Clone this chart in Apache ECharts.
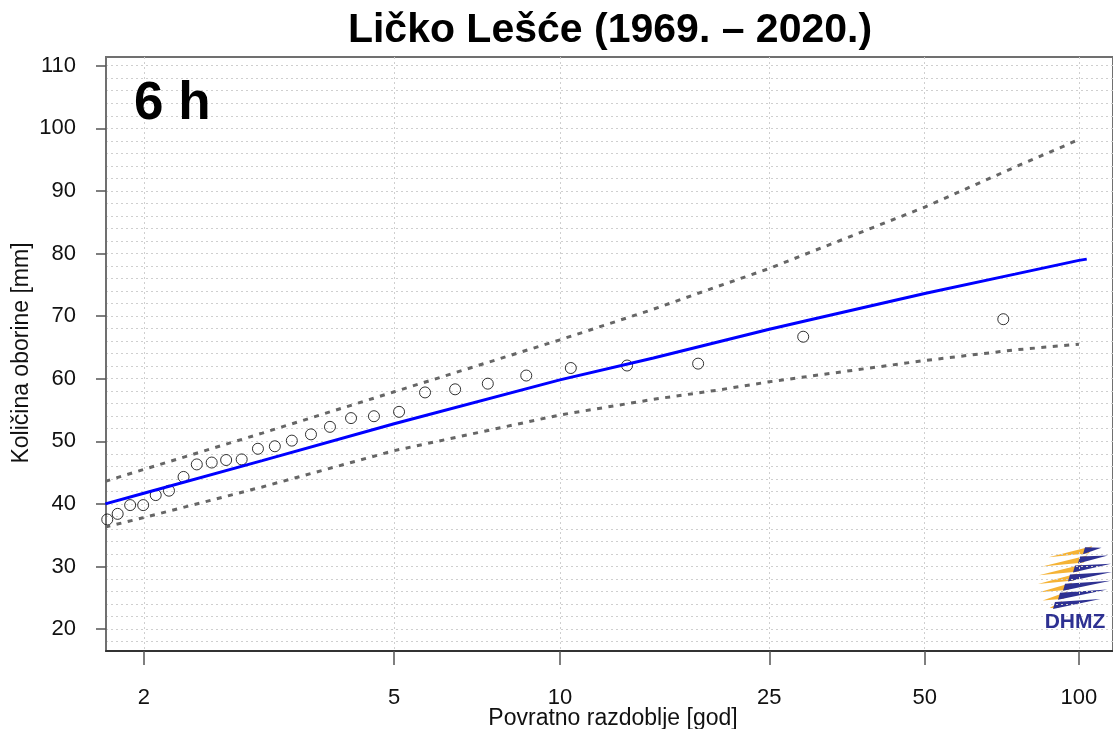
<!DOCTYPE html>
<html>
<head>
<meta charset="utf-8">
<title>Ličko Lešće – 6 h</title>
<script src="https://cdn.jsdelivr.net/npm/echarts@6/dist/echarts.min.js"></script>
<style>
    html, body { margin: 0; padding: 0; background: #ffffff; }
    #chart { width: 1113px; height: 729px; }
</style>
</head>
<body>
<div id="chart"></div>
<script>
    // data
    const titleText = 'Ličko Lešće (1969. – 2020.)';
    const durationText = '6 h';
    const xName = 'Povratno razdoblje [god]';
    const yName = 'Količina oborine [mm]';

    const xTicks = [2, 5, 10, 25, 50, 100];
    const yTicks = [20, 30, 40, 50, 60, 70, 80, 90, 100, 110];

    // observed maxima (return period [god], amount [mm])
    const obsT = [1.79, 1.846, 1.917, 1.996, 2.077, 2.168, 2.275, 2.379, 2.504, 2.634, 2.784, 2.953, 3.143, 3.349,
        3.602, 3.876, 4.209, 4.61, 5.1, 5.67, 6.42, 7.36, 8.66, 10.48, 13.37, 18.25, 29.06, 71.15];
    const obsMm = [37.5, 38.4, 39.8, 39.8, 41.4, 42.1, 44.3, 46.3, 46.6, 47.0, 47.1, 48.8, 49.2, 50.1,
        51.1, 52.3, 53.7, 54.0, 54.7, 57.8, 58.3, 59.2, 60.5, 61.7, 62.1, 62.4, 66.7, 69.5];

    // fitted distribution and confidence band
    const fitT = [1.78, 2, 3, 5, 10, 15, 20, 25, 30, 50, 75, 100, 103.6];
    const fitMm = [40.0, 41.7, 46.9, 52.8, 59.8, 63.3, 65.9, 67.9, 69.4, 73.6, 76.7, 78.9, 79.1];
    const bandT = [1.78, 2, 3, 5, 10, 15, 20, 25, 30, 50, 75, 100];
    const upperMm = [43.6, 45.5, 51.3, 57.9, 66.2, 71.1, 74.8, 77.6, 80.2, 87.4, 93.8, 98.2];
    const lowerMm = [36.3, 37.8, 42.7, 48.5, 54.2, 56.7, 58.2, 59.5, 60.4, 62.9, 64.6, 65.5];

    // Gumbel reduced variate, used as the x scale
    const gumbel = t => -Math.log(-Math.log(1 - 1 / t));
    const xTickPos = xTicks.map(gumbel);
    const yGrid = [];
    for (let v = 18; v <= 110; v += 2) yGrid.push(v);

    const font = "'Liberation Sans', Arial, sans-serif";
    const pairs = (ts, vs) => ts.map((t, i) => [gumbel(t), vs[i]]);

    // logo: rows of swooshes, yellow tapering to the left, navy tapering to the right
    const logoRows = [-25, -16.5, -8, 0.5, 9, 17.5, 26];
    const logoParts = [];
    logoRows.forEach((dy, i) => {
        const w = Math.sqrt(Math.max(0, 35 * 35 - dy * dy)) + 2;
        const c = 14 - i * 5;
        const tilt = x => -0.12 * x;
        logoParts.push({
            type: 'polygon',
            shape: {points: [[-w, dy + 2 + tilt(-w)], [c + 3, dy - 4 + tilt(c)], [c, dy + 3 + tilt(c)]]},
            style: {fill: '#f5b335'}
        });
        logoParts.push({
            type: 'polygon',
            shape: {points: [[c - 4, dy - 3 + tilt(c)], [w, dy - 1 + tilt(w)], [c - 6, dy + 4 + tilt(c)]]},
            style: {fill: '#2e3192'}
        });
    });

    const chart = echarts.init(document.getElementById('chart'));
    chart.setOption({
        animation: false,
        backgroundColor: '#ffffff',
        textStyle: {fontFamily: font},
        grid: {
            left: 106,
            right: -5,
            top: 57,
            bottom: 78,
            show: true,
            borderColor: '#707070',
            borderWidth: 2
        },
        xAxis: [{
            type: 'value',
            min: 0.1953,
            max: 4.7545,
            axisLine: {show: true, lineStyle: {color: '#333333', width: 2}},
            axisTick: {show: true, length: 14, customValues: xTickPos, lineStyle: {color: '#555555', width: 1.5}},
            axisLabel: {
                customValues: xTickPos,
                margin: 36,
                fontSize: 22,
                color: '#111111',
                fontFamily: font,
                formatter: value => {
                    let best = 0;
                    xTickPos.forEach((p, i) => {
                        if (Math.abs(p - value) < Math.abs(xTickPos[best] - value)) best = i;
                    });
                    return String(xTicks[best]);
                }
            },
            splitLine: {show: true, lineStyle: {color: '#cfcfcf', type: [2, 3], width: 1}}
        }],
        yAxis: [{
            type: 'value',
            min: 16.49,
            max: 111.39,
            axisLine: {show: true, lineStyle: {color: '#707070', width: 2}},
            axisTick: {show: true, length: 10, customValues: yTicks, lineStyle: {color: '#555555', width: 1.5}},
            axisLabel: {customValues: yTicks, margin: 30, fontSize: 22, color: '#111111', fontFamily: font},
            splitLine: {show: false}
        }, {
            type: 'value',
            position: 'left',
            min: 16.49,
            max: 111.39,
            axisLine: {show: false},
            axisTick: {show: false, customValues: yGrid},
            axisLabel: {show: false, customValues: yGrid},
            splitLine: {show: true, lineStyle: {color: '#cfcfcf', type: [2, 3], width: 1}}
        }],
        graphic: [
            {
                type: 'text', x: 610, y: 31, z: 10,
                style: {text: titleText, font: 'bold 41px ' + font, fill: '#000000', textAlign: 'center', textVerticalAlign: 'middle'}
            },
            {
                type: 'text', x: 134, y: 104, z: 10,
                style: {text: durationText, font: 'bold 53px ' + font, fill: '#000000', textAlign: 'left', textVerticalAlign: 'middle'}
            },
            {
                type: 'text', x: 613, y: 719, z: 10,
                style: {text: xName, font: '23px ' + font, fill: '#111111', textAlign: 'center', textVerticalAlign: 'middle'}
            },
            {
                type: 'text', x: 22, y: 353, rotation: Math.PI / 2, z: 10,
                style: {text: yName, font: '23px ' + font, fill: '#111111', textAlign: 'center', textVerticalAlign: 'middle'}
            },
            {type: 'group', x: 1075, y: 577, z: 10, children: logoParts},
            {
                type: 'text', x: 1075, y: 622, z: 10,
                style: {text: 'DHMZ', font: 'bold 21px ' + font, fill: '#2e3192', textAlign: 'center', textVerticalAlign: 'middle'}
            }
        ],
        series: [
            {
                name: 'gornja granica',
                type: 'line',
                data: pairs(bandT, upperMm),
                showSymbol: false,
                clip: true,
                lineStyle: {color: '#666666', width: 3, type: [5, 6.5], cap: 'butt'}
            },
            {
                name: 'donja granica',
                type: 'line',
                data: pairs(bandT, lowerMm),
                showSymbol: false,
                clip: true,
                lineStyle: {color: '#666666', width: 3, type: [5, 6.5], cap: 'butt'}
            },
            {
                name: 'razdioba',
                type: 'line',
                data: pairs(fitT, fitMm),
                showSymbol: false,
                clip: true,
                lineStyle: {color: '#0000ff', width: 3}
            },
            {
                name: 'opažanja',
                type: 'scatter',
                data: pairs(obsT, obsMm),
                symbol: 'circle',
                symbolSize: 11,
                clip: true,
                itemStyle: {color: 'rgba(0,0,0,0)', borderColor: '#000000', borderWidth: 1}
            }
        ]
    });
</script>
</body>
</html>
